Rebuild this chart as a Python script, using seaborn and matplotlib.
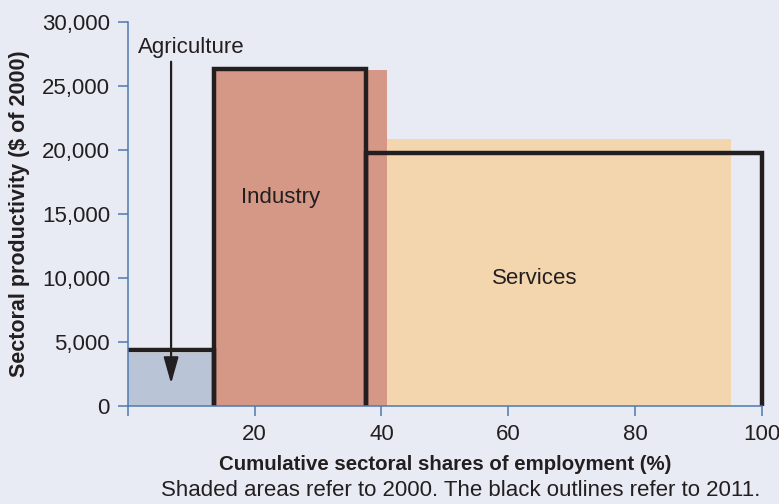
import matplotlib
matplotlib.use("Agg")
import matplotlib.pyplot as plt
import matplotlib.ticker as mticker
import seaborn as sns
import numpy as np
import pandas as pd

# sectors and values
sectors = ['Agriculture', 'Industry', 'Services']
share_2000 = [13.2, 27.6, 54.3]       # % of employment, shaded
prod_2000 = [4150, 26250, 20850]      # $ of 2000
share_2011 = [13.6, 24.0, 62.4]       # % of employment, outlines
prod_2011 = [4380, 26330, 19750]
colors_2000 = ['#bac4d7', '#d59886', '#f4d6ae']

x_ticks = [0, 20, 40, 60, 80, 100]
x_ticklabels = ['', '20', '40', '60', '80', '100']
y_ticks = [0, 5000, 10000, 15000, 20000, 25000, 30000]

bg = '#e8ebf3'
spine_col = '#4f79ad'
ink = '#231f20'

sns.set_theme(style='white', rc={'axes.facecolor': bg, 'figure.facecolor': bg})
plt.rcParams['font.family'] = ['Liberation Sans', 'DejaVu Sans']

fig = plt.figure(figsize=(7.79, 5.04), dpi=100)
ax = fig.add_axes([0.1643, 0.1944, 0.8135, 0.7619])

# shaded 2000 bars: weighted histogram with bins at cumulative shares
edges_2000 = [0.0] + list(np.cumsum(share_2000))
mids_2000 = [(a + b) / 2 for a, b in zip(edges_2000[:-1], edges_2000[1:])]
df00 = pd.DataFrame({'sector': sectors, 'mid': mids_2000, 'prod': prod_2000})
sns.histplot(data=df00, x='mid', weights='prod', bins=edges_2000, hue='sector',
             hue_order=sectors, palette=colors_2000, alpha=1, linewidth=0,
             legend=False, stat='count', ax=ax)

# 2011 outlines
edges_2011 = [0.0] + list(np.cumsum(share_2011))
rows = []
for i, (s, h) in enumerate(zip(sectors, prod_2011)):
    left, right = edges_2011[i], edges_2011[i + 1]
    pts = [(left, h), (right, h), (right, 0)]
    if i > 0:
        pts = [(left, 0)] + pts
    for k, (px, py) in enumerate(pts):
        rows.append({'sector': s, 'order': k, 'x': px, 'y': py})
df11 = pd.DataFrame(rows)
sns.lineplot(data=df11, x='x', y='y', units='sector', estimator=None, sort=False,
             color=ink, linewidth=3.2, solid_joinstyle='miter',
             solid_capstyle='butt', clip_on=False, ax=ax)

# labels
ax.text(10, 28000, 'Agriculture', ha='center', va='center', fontsize=16, color=ink)
ax.annotate('', xy=(6.8, 1750), xytext=(6.8, 26900),
            arrowprops=dict(arrowstyle='-|>,head_length=1.6,head_width=0.45',
                            mutation_scale=10, lw=1.6, color=ink,
                            shrinkA=0, shrinkB=0))
ax.text(24, 16300, 'Industry', ha='center', va='center', fontsize=16, color=ink)
ax.text(64.2, 10000, 'Services', ha='center', va='center', fontsize=16, color=ink)

ax.set_xlim(0, 100)
ax.set_ylim(0, 30000)
ax.set_xticks(x_ticks)
ax.set_xticklabels(x_ticklabels)
ax.set_yticks(y_ticks)
ax.yaxis.set_major_formatter(mticker.FuncFormatter(lambda v, p: f'{int(v):,}'))
ax.tick_params(axis='both', direction='out', length=7, width=1.1, color=spine_col,
               labelsize=16, labelcolor=ink, pad=6)
ax.tick_params(axis='both', left=True, bottom=True)

sns.despine(ax=ax)
for sp in ['left', 'bottom']:
    ax.spines[sp].set_color(spine_col)
    ax.spines[sp].set_linewidth(1.1)

ax.set_ylabel('Sectoral productivity ($ of 2000)', fontsize=15.5, fontweight='bold',
              color=ink)
ax.yaxis.set_label_coords(-0.155, 0.5)
ax.set_xlabel('Cumulative sectoral shares of employment (%)', fontsize=14.7,
              fontweight='bold', color=ink,
              family=['Liberation Sans Narrow', 'Liberation Sans'], labelpad=7)
fig.text(0.591, 0.026, 'Shaded areas refer to 2000. The black outlines refer to 2011.',
         ha='center', va='center', fontsize=16, color=ink)

fig.savefig('out.png', dpi=100, facecolor=bg)
